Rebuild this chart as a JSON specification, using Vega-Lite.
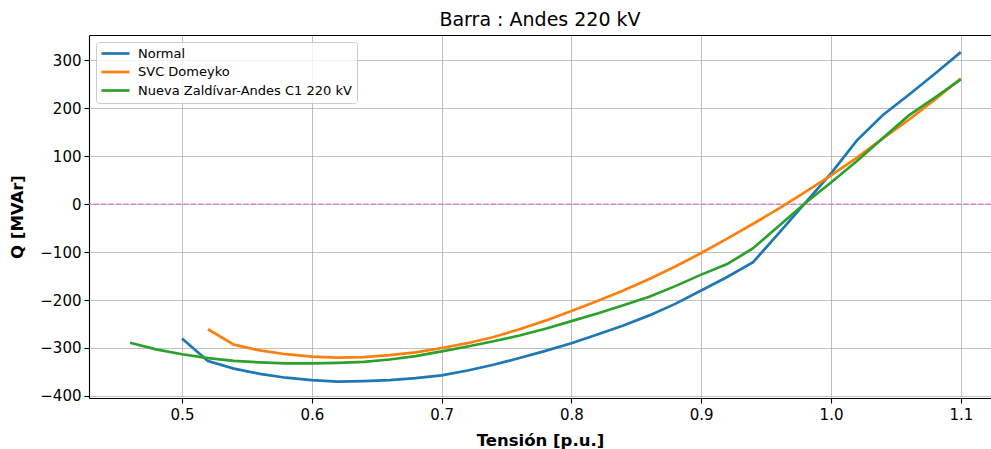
{
  "$schema": "https://vega.github.io/schema/vega-lite/v6.json",
  "width": 902,
  "height": 363,
  "autosize": {"type": "none"},
  "padding": {"left": 89, "top": 35, "right": 0, "bottom": 51},
  "background": "white",
  "title": {
    "text": "Barra : Andes 220 kV",
    "font": "DejaVu Sans",
    "fontSize": 19,
    "fontWeight": "normal",
    "color": "black",
    "anchor": "middle",
    "offset": 5
  },
  "config": {
    "view": {"stroke": null},
    "font": "DejaVu Sans",
    "axis": {
      "labelFont": "DejaVu Sans",
      "labelFontSize": 15,
      "labelColor": "black",
      "titleFont": "DejaVu Sans",
      "titleFontSize": 16.5,
      "titleFontWeight": "bold",
      "titleColor": "black",
      "domainColor": "black",
      "domainWidth": 1.1,
      "tickColor": "black",
      "tickWidth": 1.1,
      "tickSize": 5,
      "gridColor": "#b0b0b0",
      "gridWidth": 0.8
    }
  },
  "datasets": {
    "curvas": [
      {"v": 0.50, "q": -280, "caso": "Normal"},
      {"v": 0.52, "q": -327, "caso": "Normal"},
      {"v": 0.54, "q": -343, "caso": "Normal"},
      {"v": 0.56, "q": -354, "caso": "Normal"},
      {"v": 0.58, "q": -362, "caso": "Normal"},
      {"v": 0.60, "q": -367, "caso": "Normal"},
      {"v": 0.62, "q": -370, "caso": "Normal"},
      {"v": 0.64, "q": -369, "caso": "Normal"},
      {"v": 0.66, "q": -367, "caso": "Normal"},
      {"v": 0.68, "q": -363, "caso": "Normal"},
      {"v": 0.70, "q": -357, "caso": "Normal"},
      {"v": 0.72, "q": -347, "caso": "Normal"},
      {"v": 0.74, "q": -335, "caso": "Normal"},
      {"v": 0.76, "q": -321, "caso": "Normal"},
      {"v": 0.78, "q": -306, "caso": "Normal"},
      {"v": 0.80, "q": -290, "caso": "Normal"},
      {"v": 0.82, "q": -272, "caso": "Normal"},
      {"v": 0.84, "q": -253, "caso": "Normal"},
      {"v": 0.86, "q": -232, "caso": "Normal"},
      {"v": 0.88, "q": -208, "caso": "Normal"},
      {"v": 0.90, "q": -180, "caso": "Normal"},
      {"v": 0.92, "q": -152, "caso": "Normal"},
      {"v": 0.94, "q": -121, "caso": "Normal"},
      {"v": 0.96, "q": -60, "caso": "Normal"},
      {"v": 0.98, "q": 2, "caso": "Normal"},
      {"v": 1.00, "q": 64, "caso": "Normal"},
      {"v": 1.02, "q": 133, "caso": "Normal"},
      {"v": 1.04, "q": 186, "caso": "Normal"},
      {"v": 1.06, "q": 228, "caso": "Normal"},
      {"v": 1.08, "q": 272, "caso": "Normal"},
      {"v": 1.10, "q": 317, "caso": "Normal"},

      {"v": 0.52, "q": -261, "caso": "SVC Domeyko"},
      {"v": 0.54, "q": -293, "caso": "SVC Domeyko"},
      {"v": 0.56, "q": -305, "caso": "SVC Domeyko"},
      {"v": 0.58, "q": -313, "caso": "SVC Domeyko"},
      {"v": 0.60, "q": -318, "caso": "SVC Domeyko"},
      {"v": 0.62, "q": -320, "caso": "SVC Domeyko"},
      {"v": 0.64, "q": -319, "caso": "SVC Domeyko"},
      {"v": 0.66, "q": -315, "caso": "SVC Domeyko"},
      {"v": 0.68, "q": -309, "caso": "SVC Domeyko"},
      {"v": 0.70, "q": -300, "caso": "SVC Domeyko"},
      {"v": 0.72, "q": -290, "caso": "SVC Domeyko"},
      {"v": 0.74, "q": -277, "caso": "SVC Domeyko"},
      {"v": 0.76, "q": -261, "caso": "SVC Domeyko"},
      {"v": 0.78, "q": -243, "caso": "SVC Domeyko"},
      {"v": 0.80, "q": -223, "caso": "SVC Domeyko"},
      {"v": 0.82, "q": -202, "caso": "SVC Domeyko"},
      {"v": 0.84, "q": -180, "caso": "SVC Domeyko"},
      {"v": 0.86, "q": -156, "caso": "SVC Domeyko"},
      {"v": 0.88, "q": -130, "caso": "SVC Domeyko"},
      {"v": 0.90, "q": -102, "caso": "SVC Domeyko"},
      {"v": 0.92, "q": -72, "caso": "SVC Domeyko"},
      {"v": 0.94, "q": -41, "caso": "SVC Domeyko"},
      {"v": 0.96, "q": -9, "caso": "SVC Domeyko"},
      {"v": 0.98, "q": 25, "caso": "SVC Domeyko"},
      {"v": 1.00, "q": 60, "caso": "SVC Domeyko"},
      {"v": 1.02, "q": 97, "caso": "SVC Domeyko"},
      {"v": 1.04, "q": 137, "caso": "SVC Domeyko"},
      {"v": 1.06, "q": 176, "caso": "SVC Domeyko"},
      {"v": 1.08, "q": 218, "caso": "SVC Domeyko"},
      {"v": 1.10, "q": 262, "caso": "SVC Domeyko"},

      {"v": 0.46, "q": -289, "caso": "Nueva Zaldívar-Andes C1 220 kV"},
      {"v": 0.48, "q": -303, "caso": "Nueva Zaldívar-Andes C1 220 kV"},
      {"v": 0.50, "q": -313, "caso": "Nueva Zaldívar-Andes C1 220 kV"},
      {"v": 0.52, "q": -321, "caso": "Nueva Zaldívar-Andes C1 220 kV"},
      {"v": 0.54, "q": -327, "caso": "Nueva Zaldívar-Andes C1 220 kV"},
      {"v": 0.56, "q": -330, "caso": "Nueva Zaldívar-Andes C1 220 kV"},
      {"v": 0.58, "q": -332, "caso": "Nueva Zaldívar-Andes C1 220 kV"},
      {"v": 0.60, "q": -332, "caso": "Nueva Zaldívar-Andes C1 220 kV"},
      {"v": 0.62, "q": -331, "caso": "Nueva Zaldívar-Andes C1 220 kV"},
      {"v": 0.64, "q": -329, "caso": "Nueva Zaldívar-Andes C1 220 kV"},
      {"v": 0.66, "q": -324, "caso": "Nueva Zaldívar-Andes C1 220 kV"},
      {"v": 0.68, "q": -317, "caso": "Nueva Zaldívar-Andes C1 220 kV"},
      {"v": 0.70, "q": -307, "caso": "Nueva Zaldívar-Andes C1 220 kV"},
      {"v": 0.72, "q": -297, "caso": "Nueva Zaldívar-Andes C1 220 kV"},
      {"v": 0.74, "q": -286, "caso": "Nueva Zaldívar-Andes C1 220 kV"},
      {"v": 0.76, "q": -274, "caso": "Nueva Zaldívar-Andes C1 220 kV"},
      {"v": 0.78, "q": -260, "caso": "Nueva Zaldívar-Andes C1 220 kV"},
      {"v": 0.80, "q": -244, "caso": "Nueva Zaldívar-Andes C1 220 kV"},
      {"v": 0.82, "q": -228, "caso": "Nueva Zaldívar-Andes C1 220 kV"},
      {"v": 0.84, "q": -211, "caso": "Nueva Zaldívar-Andes C1 220 kV"},
      {"v": 0.86, "q": -193, "caso": "Nueva Zaldívar-Andes C1 220 kV"},
      {"v": 0.88, "q": -171, "caso": "Nueva Zaldívar-Andes C1 220 kV"},
      {"v": 0.90, "q": -147, "caso": "Nueva Zaldívar-Andes C1 220 kV"},
      {"v": 0.92, "q": -125, "caso": "Nueva Zaldívar-Andes C1 220 kV"},
      {"v": 0.94, "q": -92, "caso": "Nueva Zaldívar-Andes C1 220 kV"},
      {"v": 0.96, "q": -45, "caso": "Nueva Zaldívar-Andes C1 220 kV"},
      {"v": 0.98, "q": 2, "caso": "Nueva Zaldívar-Andes C1 220 kV"},
      {"v": 1.00, "q": 45, "caso": "Nueva Zaldívar-Andes C1 220 kV"},
      {"v": 1.02, "q": 90, "caso": "Nueva Zaldívar-Andes C1 220 kV"},
      {"v": 1.04, "q": 138, "caso": "Nueva Zaldívar-Andes C1 220 kV"},
      {"v": 1.06, "q": 185, "caso": "Nueva Zaldívar-Andes C1 220 kV"},
      {"v": 1.08, "q": 222, "caso": "Nueva Zaldívar-Andes C1 220 kV"},
      {"v": 1.10, "q": 260, "caso": "Nueva Zaldívar-Andes C1 220 kV"}
    ],
    "referencia": [{"q": 0}]
  },
  "resolve": {"axis": {"x": "independent"}},
  "layer": [
    {
      "data": {"name": "referencia"},
      "mark": {"type": "rule", "color": "#e070e0", "strokeWidth": 1.2, "strokeDash": [5, 2.5]},
      "encoding": {
        "y": {
          "field": "q",
          "type": "quantitative",
          "scale": {"domain": [-404.3, 352.7], "nice": false, "zero": false},
          "axis": {
            "values": [-400, -300, -200, -100, 0, 100, 200, 300],
            "format": "d",
            "title": "Q [MVAr]",
            "labelPadding": 3,
            "titlePadding": 14
          }
        }
      }
    },
    {
      "data": {"name": "curvas"},
      "mark": {"type": "line", "strokeWidth": 2.7, "clip": true},
      "encoding": {
        "x": {
          "field": "v",
          "type": "quantitative",
          "scale": {"domain": [0.42835, 1.12326], "nice": false, "zero": false},
          "axis": {
            "values": [0.5, 0.6, 0.7, 0.8, 0.9, 1.0, 1.1],
            "format": ".1f",
            "title": "Tensión [p.u.]",
            "labelPadding": 4,
            "titlePadding": 10
          }
        },
        "y": {"field": "q", "type": "quantitative"},
        "color": {
          "field": "caso",
          "type": "nominal",
          "scale": {
            "domain": ["Normal", "SVC Domeyko", "Nueva Zaldívar-Andes C1 220 kV"],
            "range": ["#1f77b4", "#ff7f0e", "#2ca02c"]
          },
          "legend": {
            "title": null,
            "orient": "none",
            "legendX": 7,
            "legendY": 7,
            "symbolType": "M-1.2,0H4.4",
            "symbolSize": 100,
            "symbolStrokeWidth": 2.7,
            "labelFont": "DejaVu Sans",
            "labelFontSize": 13,
            "labelColor": "black",
            "labelLimit": 0,
            "labelOffset": 24,
            "rowPadding": 4.5,
            "padding": 5,
            "fillColor": "rgba(255,255,255,0.8)",
            "strokeColor": "#cccccc",
            "cornerRadius": 3
          }
        },
        "order": {"field": "v", "type": "quantitative"}
      }
    },
    {
      "data": {"name": "referencia"},
      "mark": {"type": "point", "opacity": 0},
      "encoding": {
        "x": {
          "datum": 0.8,
          "type": "quantitative",
          "axis": {
            "orient": "top",
            "labels": false,
            "ticks": false,
            "grid": false,
            "title": null,
            "domain": true
          }
        }
      }
    }
  ]
}
